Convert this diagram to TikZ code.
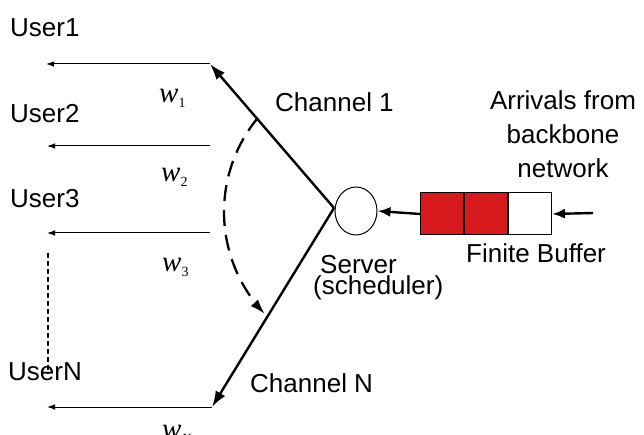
\documentclass[tikz,border=0pt]{standalone}
\usepackage{fontspec}
\setmainfont{Liberation Sans}
\newfontfamily\wfont{Liberation Serif}
\usetikzlibrary{arrows.meta,shapes.geometric}
\definecolor{bufred}{RGB}{215,25,28}
\tikzset{
  lbl/.style={anchor=base west,inner sep=0pt,font=\fontsize{26}{34}\selectfont},
  wl/.style={anchor=base west,inner sep=0pt},
  userarrow/.style={line width=1pt,-{Latex[length=8pt,width=5.5pt]}},
  chan/.style={line width=2.4pt,-{Latex[length=16pt,width=11pt]}},
  thickarrow/.style={line width=2.4pt,-{Latex[length=13pt,width=10pt]}},
  cell/.style={draw=black,line width=1pt,minimum width=43pt,minimum height=42pt,inner sep=0pt,anchor=west},
}
\newcommand{\wlab}[1]{{\wfont\fontsize{29}{30}\selectfont\itshape w}\raisebox{-5pt}{\wfont\fontsize{14}{15}\selectfont #1}}
\begin{document}
\begin{tikzpicture}[x=1pt,y=-1pt]
\useasboundingbox (0,0) rectangle (644,435);
% users
\node[lbl] (u1) at (10,37) {User1};
\node[lbl] (u2) at (10,123) {User2};
\node[lbl] (u3) at (10,208) {User3};
\node[lbl] (un) at (8,380) {UserN};
% channel vertex and ends
\coordinate (v) at (334,208);
\coordinate (e1) at (210,64);
\coordinate (e2) at (210,146);
\coordinate (e3) at (210,233);
\coordinate (en) at (212,407);
\coordinate (t1) at (46,64);
\coordinate (t2) at (47,146);
\coordinate (t3) at (47,233);
\coordinate (tn) at (47,407);
\draw[userarrow] (e1) -- (t1);
\draw[userarrow] (e2) -- (t2);
\draw[userarrow] (e3) -- (t3);
\draw[userarrow] (en) -- (tn);
\draw[chan] (v) -- (e1);
\draw[chan] (v) -- (en);
% dotted vertical
\coordinate (d1) at (48,253);
\coordinate (d2) at (48,374);
\draw[line width=2.6pt,dash pattern=on 5pt off 3pt] (d1) -- (d2);
% dashed arc
\draw[line width=2.3pt,dash pattern=on 16pt off 9pt,-{Latex[length=15pt,width=10pt]}]
  plot[smooth,samples=30,domain=140.5:223.5] ({372+148*cos(\x)},{212-148*sin(\x)});
% weights
\node[wl] (w1) at (159,103) {\wlab{1}};
\node[wl] (w2) at (161,182) {\wlab{2}};
\node[wl] (w3) at (162,272) {\wlab{3}};
\node[wl] (wn) at (162,438) {\wlab{\textit{N}}};
% channel labels
\node[lbl] (c1) at (275,112) {Channel 1};
\node[lbl] (cn) at (250,392) {Channel N};
% server
\node[draw,ellipse,line width=1pt,minimum width=42pt,minimum height=48pt,inner sep=0pt] (srv) at (356,211) {};
\node[lbl] (s1) at (320,273) {Server};
\node[lbl] (s2) at (313,294) {(scheduler)};
% buffer
\node[cell,fill=bufred] (b1) at (420,214) {};
\node[cell,fill=bufred] (b2) at (b1.east) {};
\node[cell,fill=white] (b3) at (b2.east) {};
\draw[thickarrow] (b1.west) -- (srv.east);
\coordinate (in) at (593,213);
\draw[thickarrow] (in) -- (b3.east);
\node[lbl] (fb) at (466,262) {Finite Buffer};
\node[anchor=base,inner sep=0pt,font=\fontsize{26}{34}\selectfont,align=center] (arr) at (563,178) {Arrivals from\\backbone\\network};
\end{tikzpicture}
\end{document}
